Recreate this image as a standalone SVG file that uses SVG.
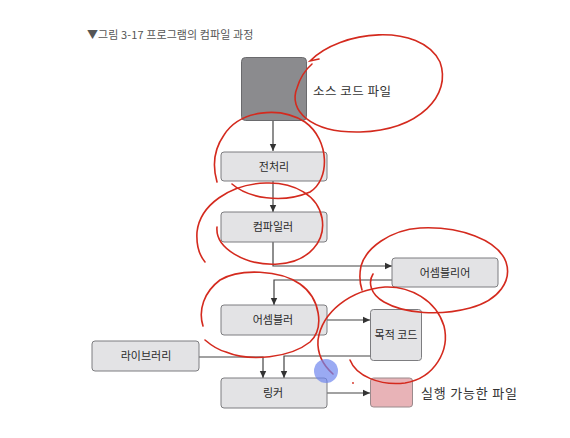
<svg xmlns="http://www.w3.org/2000/svg" width="570" height="438" viewBox="0 0 570 438">
<style>
text{font-family:"Noto Sans CJK KR","Noto Sans",sans-serif;fill:#333}
.box{fill:#e3e3e5;stroke:#7d7d80;stroke-width:1}
.lbl{font-size:11px;text-anchor:middle;fill:#2a2a2a}
.con{fill:none;stroke:#444;stroke-width:1.2}
.red{fill:none;stroke:#d42a1e;stroke-width:1.6;stroke-linecap:round}
</style>
<defs>
<marker id="ah" markerWidth="8" markerHeight="8" refX="7" refY="4" orient="auto" markerUnits="userSpaceOnUse">
<path d="M0,0.8 L7,4 L0,7.2 Z" fill="#333"/>
</marker>
</defs>
<rect width="570" height="438" fill="#fff"/>
<text x="87" y="39" font-size="11" style="fill:#555;letter-spacing:0.1px">▼그림 3-17  프로그램의 컴파일 과정</text>

<g id="connectors">
<path class="con" d="M273,121 V151" marker-end="url(#ah)"/>
<path class="con" d="M273,181 V212" marker-end="url(#ah)"/>
<path class="con" d="M273,242 V266 H392" marker-end="url(#ah)"/>
<path class="con" d="M392,280 H274 V305" marker-end="url(#ah)"/>
<path class="con" d="M327,320 H370" marker-end="url(#ah)"/>
<path class="con" d="M199,357 H263 V378" marker-end="url(#ah)"/>
<path class="con" d="M370,356 H284 V378" marker-end="url(#ah)"/>
<path class="con" d="M327,393 H370" marker-end="url(#ah)"/>
</g>

<g id="source">
<rect x="241.5" y="57.5" width="65" height="63" rx="4" fill="#8b8b8e" stroke="#6a6a6d"/>
<text x="313" y="96" font-size="12.5" style="letter-spacing:0.5px">소스 코드 파일</text>
</g>
<g id="preprocessor">
<rect class="box" x="221" y="152" width="106" height="29" rx="3"/>
<text class="lbl" x="274" y="170.5">전처리</text>
</g>
<g id="compiler">
<rect class="box" x="221" y="212" width="106" height="30" rx="3"/>
<text class="lbl" x="273" y="231">컴파일러</text>
</g>
<g id="assembly">
<rect class="box" x="392" y="258" width="106" height="29" rx="3"/>
<text class="lbl" x="445" y="276.5">어셈블리어</text>
</g>
<g id="assembler">
<rect class="box" x="221" y="305" width="106" height="30" rx="3"/>
<text class="lbl" x="273" y="324">어셈블러</text>
</g>
<g id="object">
<rect class="box" x="370.5" y="309.5" width="51" height="51" rx="3"/>
<text class="lbl" x="396" y="339">목적 코드</text>
</g>
<g id="library">
<rect class="box" x="92" y="341" width="107" height="30" rx="3"/>
<text class="lbl" x="146" y="360">라이브러리</text>
</g>
<g id="linker">
<rect class="box" x="221" y="378" width="106" height="30" rx="3"/>
<text class="lbl" x="273" y="397">링커</text>
</g>
<g id="executable">
<rect x="370.5" y="378" width="42" height="29" rx="3" fill="#e8b3b7" stroke="#9a8a8c"/>
<text x="421" y="398" font-size="13" style="letter-spacing:0.8px">실행 가능한 파일</text>
</g>

<g id="annotations">
<path class="red" d="M319,59 L310,61 C340,30 420,22 440,62 C452,95 420,130 360,132 C310,133 288,110 297,88 C300,78 305,70 312,64"/>
<path class="red" d="M232,184 C248,198 282,204 310,192 C330,180 330,140 305,122 C280,106 240,110 224,135 C212,152 213,168 217,182"/>
<path class="red" d="M217,227 C215,248 245,266 278,264 C310,262 326,240 322,218 C318,196 295,182 266,183 C230,184 200,205 197,232 C196,248 200,256 205,262"/>
<path class="red" d="M373,274 C368,282 370,294 384,302 C405,314 440,316 470,308 C500,300 512,280 506,262 C498,240 460,226 420,228 C390,230 366,248 361,266 C359,276 360,284 362,290"/>
<path class="red" d="M205,340 C212,346 218,350 226,352 C250,362 290,358 310,342 C325,328 320,298 300,284 C280,270 240,268 220,280 C204,292 198,310 203,326"/>
<path class="red" d="M350,360 C356,376 380,386 405,383 C435,378 450,350 444,326 C436,300 410,286 385,287 C350,290 322,312 318,340 C317,355 324,366 333,374"/>
<circle cx="326" cy="371" r="12" fill="#6f86ee" fill-opacity="0.7"/>
<circle cx="353" cy="383" r="0.9" fill="#d42a1e"/>
</g>
</svg>
